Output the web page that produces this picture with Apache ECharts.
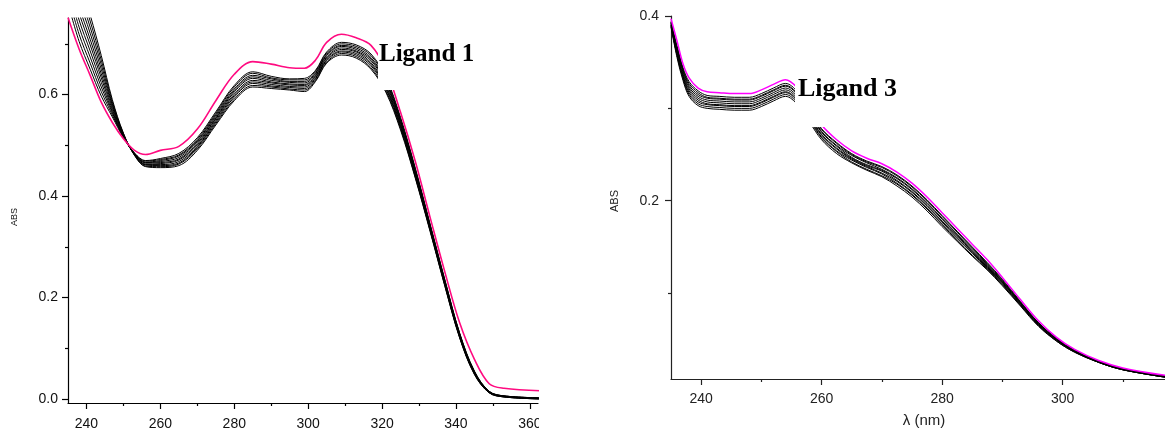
<!DOCTYPE html>
<html>
<head>
<meta charset="utf-8">
<script src="https://cdn.jsdelivr.net/npm/echarts@6/dist/echarts.min.js"></script>
<style>
  html, body { margin: 0; padding: 0; background: #fff; width: 1165px; height: 432px; overflow: hidden; }
  #leftWrap { position: absolute; left: 0; top: 0; width: 539px; height: 432px; overflow: hidden; }
  #left { position: absolute; left: 0; top: 0; width: 590px; height: 432px; }
  #right { position: absolute; left: 590px; top: 0; width: 575px; height: 432px; }
</style>
</head>
<body>
<div id="leftWrap"><div id="left"></div></div>
<div id="right"></div>
<script>
// ---------- Ligand 1 : UV-Vis titration spectra ----------
const ligand1Wavelength = [235, 238, 241, 244, 247, 250, 253, 256, 260, 265, 270, 275, 280, 285, 290, 295, 299, 302, 305, 309, 313, 317, 321, 325, 329, 333, 337, 341, 345, 349, 353, 363];
// free ligand spectrum (pink trace)
const ligand1Free = [0.752, 0.690, 0.638, 0.585, 0.545, 0.513, 0.490, 0.482, 0.490, 0.498, 0.532, 0.588, 0.640, 0.665, 0.660, 0.653, 0.652, 0.668, 0.703, 0.719, 0.712, 0.697, 0.650, 0.565, 0.468, 0.358, 0.250, 0.150, 0.078, 0.030, 0.021, 0.016];
// titration scans, one row per wavelength, one column per scan
const ligand1Titration = [
  [0.780, 0.796, 0.811, 0.827, 0.842, 0.858, 0.873, 0.889, 0.904, 0.920],
  [0.705, 0.719, 0.733, 0.747, 0.761, 0.774, 0.788, 0.802, 0.816, 0.830],
  [0.650, 0.662, 0.674, 0.686, 0.698, 0.709, 0.721, 0.733, 0.745, 0.757],
  [0.597, 0.606, 0.615, 0.624, 0.633, 0.641, 0.650, 0.659, 0.668, 0.677],
  [0.556, 0.560, 0.564, 0.567, 0.571, 0.575, 0.579, 0.582, 0.586, 0.590],
  [0.515, 0.516, 0.517, 0.518, 0.519, 0.520, 0.521, 0.522, 0.523, 0.524],
  [0.485, 0.484, 0.484, 0.483, 0.483, 0.482, 0.482, 0.481, 0.481, 0.480],
  [0.470, 0.469, 0.467, 0.466, 0.465, 0.463, 0.462, 0.461, 0.459, 0.458],
  [0.474, 0.472, 0.470, 0.468, 0.466, 0.464, 0.462, 0.460, 0.458, 0.456],
  [0.484, 0.481, 0.479, 0.476, 0.473, 0.471, 0.468, 0.465, 0.463, 0.460],
  [0.515, 0.512, 0.509, 0.507, 0.504, 0.501, 0.498, 0.496, 0.493, 0.490],
  [0.566, 0.563, 0.560, 0.557, 0.554, 0.552, 0.549, 0.546, 0.543, 0.540],
  [0.618, 0.615, 0.611, 0.608, 0.605, 0.601, 0.598, 0.595, 0.591, 0.588],
  [0.645, 0.642, 0.638, 0.635, 0.632, 0.628, 0.625, 0.622, 0.618, 0.615],
  [0.636, 0.633, 0.631, 0.628, 0.625, 0.623, 0.620, 0.617, 0.615, 0.612],
  [0.631, 0.629, 0.626, 0.624, 0.621, 0.619, 0.616, 0.614, 0.611, 0.609],
  [0.632, 0.629, 0.626, 0.623, 0.620, 0.618, 0.615, 0.612, 0.609, 0.606],
  [0.648, 0.646, 0.643, 0.641, 0.638, 0.636, 0.633, 0.631, 0.628, 0.626],
  [0.684, 0.682, 0.679, 0.677, 0.674, 0.672, 0.669, 0.667, 0.664, 0.662],
  [0.703, 0.700, 0.697, 0.695, 0.692, 0.689, 0.686, 0.684, 0.681, 0.678],
  [0.698, 0.695, 0.692, 0.689, 0.686, 0.684, 0.681, 0.678, 0.675, 0.672],
  [0.680, 0.677, 0.673, 0.670, 0.667, 0.663, 0.660, 0.657, 0.653, 0.650],
  [0.635, 0.632, 0.628, 0.625, 0.622, 0.618, 0.615, 0.612, 0.608, 0.605],
  [0.555, 0.552, 0.549, 0.547, 0.544, 0.541, 0.538, 0.536, 0.533, 0.530],
  [0.455, 0.453, 0.451, 0.448, 0.446, 0.444, 0.442, 0.439, 0.437, 0.435],
  [0.345, 0.343, 0.342, 0.340, 0.338, 0.337, 0.335, 0.333, 0.332, 0.330],
  [0.235, 0.234, 0.232, 0.231, 0.229, 0.228, 0.226, 0.225, 0.223, 0.222],
  [0.130, 0.129, 0.128, 0.127, 0.126, 0.124, 0.123, 0.122, 0.121, 0.120],
  [0.055, 0.054, 0.053, 0.053, 0.052, 0.051, 0.050, 0.050, 0.049, 0.048],
  [0.015, 0.015, 0.014, 0.014, 0.014, 0.013, 0.013, 0.013, 0.012, 0.012],
  [0.006, 0.006, 0.006, 0.005, 0.005, 0.005, 0.005, 0.004, 0.004, 0.004],
  [0.002, 0.002, 0.002, 0.001, 0.001, 0.001, 0.001, 0.000, 0.000, 0.000]
];
const ligand1XTicks = [240, 260, 280, 300, 320, 340, 360];
const ligand1XMinor = [250, 270, 290, 310, 330, 350];
const ligand1YTicks = [0.0, 0.2, 0.4, 0.6];
const ligand1YMinor = [0.1, 0.3, 0.5, 0.7];

// ---------- Ligand 3 : UV-Vis titration spectra ----------
const ligand3Wavelength = [235, 236, 237, 238, 239.5, 241, 243, 245.5, 248, 250, 252, 254, 256, 258, 260, 262.5, 265, 267.5, 270, 272.5, 275, 277.5, 280, 282.5, 285, 287.5, 290, 293, 296, 299, 302, 306, 310, 317];
const ligand3Free = [0.397, 0.373, 0.348, 0.333, 0.322, 0.318, 0.317, 0.316, 0.316, 0.320, 0.326, 0.331, 0.322, 0.303, 0.282, 0.266, 0.254, 0.246, 0.240, 0.231, 0.219, 0.204, 0.187, 0.170, 0.153, 0.136, 0.117, 0.093, 0.070, 0.052, 0.039, 0.027, 0.019, 0.011];
const ligand3Titration = [
  [0.394, 0.393, 0.393, 0.392, 0.391, 0.390, 0.390, 0.389, 0.388],
  [0.368, 0.366, 0.365, 0.363, 0.362, 0.360, 0.358, 0.357, 0.355],
  [0.344, 0.342, 0.341, 0.339, 0.337, 0.335, 0.334, 0.332, 0.330],
  [0.329, 0.327, 0.325, 0.323, 0.321, 0.319, 0.317, 0.315, 0.313],
  [0.319, 0.317, 0.315, 0.313, 0.311, 0.309, 0.307, 0.305, 0.303],
  [0.314, 0.312, 0.311, 0.309, 0.307, 0.305, 0.304, 0.302, 0.300],
  [0.313, 0.311, 0.310, 0.308, 0.306, 0.304, 0.303, 0.301, 0.299],
  [0.312, 0.310, 0.309, 0.307, 0.305, 0.303, 0.302, 0.300, 0.298],
  [0.312, 0.310, 0.309, 0.307, 0.305, 0.303, 0.302, 0.300, 0.298],
  [0.316, 0.314, 0.313, 0.311, 0.309, 0.307, 0.306, 0.304, 0.302],
  [0.322, 0.320, 0.319, 0.317, 0.315, 0.313, 0.312, 0.310, 0.308],
  [0.327, 0.325, 0.324, 0.322, 0.320, 0.318, 0.317, 0.315, 0.313],
  [0.318, 0.316, 0.315, 0.313, 0.311, 0.309, 0.308, 0.306, 0.304],
  [0.299, 0.297, 0.296, 0.294, 0.292, 0.290, 0.289, 0.287, 0.285],
  [0.278, 0.277, 0.275, 0.274, 0.272, 0.271, 0.269, 0.268, 0.266],
  [0.263, 0.262, 0.260, 0.259, 0.257, 0.256, 0.254, 0.253, 0.251],
  [0.251, 0.250, 0.249, 0.247, 0.246, 0.245, 0.244, 0.242, 0.241],
  [0.243, 0.242, 0.241, 0.239, 0.238, 0.237, 0.236, 0.234, 0.233],
  [0.237, 0.236, 0.234, 0.233, 0.232, 0.230, 0.229, 0.227, 0.226],
  [0.228, 0.227, 0.225, 0.224, 0.222, 0.221, 0.219, 0.218, 0.216],
  [0.216, 0.215, 0.213, 0.212, 0.210, 0.209, 0.207, 0.206, 0.204],
  [0.201, 0.200, 0.198, 0.197, 0.195, 0.194, 0.192, 0.191, 0.189],
  [0.184, 0.183, 0.181, 0.180, 0.178, 0.177, 0.175, 0.174, 0.172],
  [0.167, 0.166, 0.164, 0.163, 0.162, 0.160, 0.159, 0.157, 0.156],
  [0.150, 0.149, 0.148, 0.146, 0.145, 0.144, 0.143, 0.141, 0.140],
  [0.133, 0.132, 0.131, 0.130, 0.129, 0.128, 0.127, 0.126, 0.125],
  [0.115, 0.114, 0.113, 0.112, 0.112, 0.111, 0.110, 0.109, 0.108],
  [0.091, 0.090, 0.090, 0.089, 0.089, 0.088, 0.087, 0.087, 0.086],
  [0.068, 0.068, 0.067, 0.067, 0.066, 0.066, 0.065, 0.065, 0.064],
  [0.051, 0.051, 0.050, 0.050, 0.050, 0.049, 0.049, 0.048, 0.048],
  [0.038, 0.038, 0.037, 0.037, 0.037, 0.037, 0.037, 0.036, 0.036],
  [0.026, 0.026, 0.026, 0.026, 0.026, 0.025, 0.025, 0.025, 0.025],
  [0.018, 0.018, 0.018, 0.018, 0.018, 0.017, 0.017, 0.017, 0.017],
  [0.010, 0.010, 0.010, 0.010, 0.010, 0.009, 0.009, 0.009, 0.009]
];
const ligand3XTicks = [240, 260, 280, 300];
const ligand3XMinor = [250, 270, 290, 310];
const ligand3YTicks = [0.2, 0.4];
const ligand3YMinor = [0.1, 0.3];

const SANS = '"Liberation Sans", Arial, sans-serif';
const SERIF = '"Liberation Serif", "Times New Roman", serif';

function buildSeries(lambda, scans, free, freeColor, freeWidth) {
  const out = [];
  const nScans = scans[0].length;
  for (let k = 0; k < nScans; k++) {
    out.push({
      type: 'line', xAxisIndex: 0, yAxisIndex: 0,
      data: lambda.map((x, i) => [x, scans[i][k]]),
      symbol: 'none', smooth: 0.35, silent: true,
      lineStyle: { color: '#000', width: 1 }, z: 2
    });
  }
  out.push({
    type: 'line', xAxisIndex: 0, yAxisIndex: 0,
    data: lambda.map((x, i) => [x, free[i]]),
    symbol: 'none', smooth: 0.35, silent: true,
    lineStyle: { color: freeColor, width: freeWidth }, z: 3
  });
  return out;
}

function buildAxes(c) {
  const lineStyle = { color: c.axisColor, width: 1.2 };
  const xAxis = [
    {
      type: 'value', min: c.xMin, max: c.xMax, position: 'bottom',
      axisLine: { show: true, onZero: false, lineStyle },
      splitLine: { show: false },
      axisTick: { show: true, customValues: c.xTicks, length: 6, lineStyle },
      axisLabel: { customValues: c.xTicks, fontFamily: SANS, fontSize: 14, color: c.labelColor, margin: c.xMargin }
    },
    {
      type: 'value', min: c.xMin, max: c.xMax, position: 'bottom',
      axisLine: { show: false, onZero: false }, splitLine: { show: false },
      axisTick: { show: true, customValues: c.xMinor, length: 3, lineStyle },
      axisLabel: { show: false }
    }
  ];
  const yAxis = [
    {
      type: 'value', min: c.yMin, max: c.yMax, position: 'left',
      axisLine: { show: true, onZero: false, lineStyle },
      splitLine: { show: false },
      axisTick: { show: true, customValues: c.yTicks, length: 6, lineStyle },
      axisLabel: { customValues: c.yTicks, fontFamily: SANS, fontSize: 14, color: c.labelColor, margin: c.yMargin,
                   formatter: v => Number(v).toFixed(1) }
    },
    {
      type: 'value', min: c.yMin, max: c.yMax, position: 'left',
      axisLine: { show: false, onZero: false }, splitLine: { show: false },
      axisTick: { show: true, customValues: c.yMinor, length: 3, lineStyle },
      axisLabel: { show: false }
    }
  ];
  return { xAxis, yAxis };
}

// ---- left panel ----
const leftChart = echarts.init(document.getElementById('left'), null, { renderer: 'canvas' });
const leftAxes = buildAxes({
  xMin: 235, xMax: 362.2, yMin: -0.008, yMax: 0.751,
  xTicks: ligand1XTicks, xMinor: ligand1XMinor, yTicks: ligand1YTicks, yMinor: ligand1YMinor,
  axisColor: '#000', labelColor: '#111', xMargin: 14, yMargin: 10
});
leftChart.setOption({
  animation: false,
  grid: { left: 68, top: 18, width: 470, height: 385, containLabel: false },
  xAxis: leftAxes.xAxis,
  yAxis: leftAxes.yAxis,
  series: buildSeries(ligand1Wavelength, ligand1Titration, ligand1Free, '#ff0a80', 1.6),
  graphic: [
    { type: 'rect', shape: { x: 378, y: 34, width: 104, height: 56 }, style: { fill: '#fff' }, z: 100 },
    { type: 'text', x: 379, y: 55, z: 101,
      style: { text: 'Ligand 1', font: 'bold 25px ' + SERIF, fill: '#000', verticalAlign: 'middle' } },
    { type: 'text', x: 15, y: 217, rotation: Math.PI / 2, z: 101,
      style: { text: 'ABS', font: '9px ' + SANS, fill: '#111', align: 'center', verticalAlign: 'middle' } }
  ]
});

// ---- right panel ----
const rightChart = echarts.init(document.getElementById('right'), null, { renderer: 'canvas' });
const rightAxes = buildAxes({
  xMin: 235, xMax: 317, yMin: 0.007, yMax: 0.4,
  xTicks: ligand3XTicks, xMinor: ligand3XMinor, yTicks: ligand3YTicks, yMinor: ligand3YMinor,
  axisColor: '#222', labelColor: '#222', xMargin: 13, yMargin: 12
});
rightChart.setOption({
  animation: false,
  grid: { left: 81, top: 16, width: 494, height: 363, containLabel: false },
  xAxis: rightAxes.xAxis,
  yAxis: rightAxes.yAxis,
  series: buildSeries(ligand3Wavelength, ligand3Titration, ligand3Free, '#ff00ff', 1.5),
  graphic: [
    { type: 'rect', shape: { x: 205, y: 60, width: 108, height: 67 }, style: { fill: '#fff' }, z: 100 },
    { type: 'text', x: 208, y: 89, z: 101,
      style: { text: 'Ligand 3', font: 'bold 26px ' + SERIF, fill: '#000', verticalAlign: 'middle' } },
    { type: 'text', x: 25, y: 201, rotation: Math.PI / 2, z: 101,
      style: { text: 'ABS', font: '11px ' + SANS, fill: '#222', align: 'center', verticalAlign: 'middle' } },
    { type: 'text', x: 334, y: 421, z: 101,
      style: { text: 'λ (nm)', font: '15px ' + SANS, fill: '#222', align: 'center', verticalAlign: 'middle' } }
  ]
});
</script>
</body>
</html>
